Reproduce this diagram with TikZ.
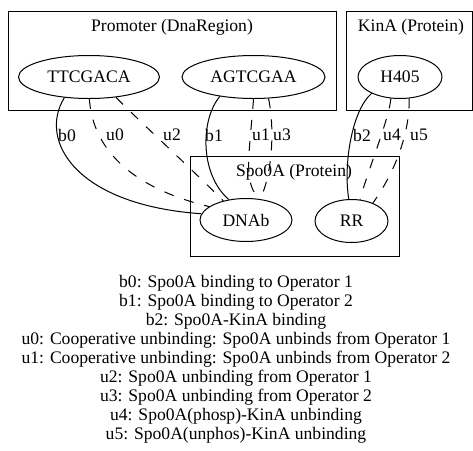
\documentclass[tikz,border=0pt]{standalone}
\usepackage{fontspec}
\setmainfont{Liberation Serif}
\usetikzlibrary{shapes.geometric}
\tikzset{
	site/.style={draw, ellipse, line width=1pt, minimum height=43pt, inner sep=0pt},
	cluster/.style={draw, line width=1pt},
	bind/.style={line width=1pt},
	unbind/.style={line width=1pt, dash pattern=on 10pt off 11pt},
	lbl/.style={inner sep=0pt}
}

\begin{document}
\begin{tikzpicture}[x=1pt, y=-1pt, font=\fontsize{17.6}{19}\selectfont]
		%%%%% START %%%%%
		\useasboundingbox (0, 0) rectangle (473, 450);
		
		% clusters
		\draw[cluster] (8.5, 11) rectangle (336.5, 110);
		\node[lbl] (promoter) at (172, 27) {Promoter (DnaRegion)};
		\draw[cluster] (346.5, 11) rectangle (472.5, 110);
		\node[lbl] (kina) at (411, 27) {KinA (Protein)};
		\draw[cluster] (190, 156) rectangle (399, 256);
		\node[lbl] (spo0a) at (294, 172) {Spo0A (Protein)};
		
		% sites
		\node[site, minimum width=141pt] (ttc) at (89, 77) {TTCGACA};
		\node[site, minimum width=143pt] (agt) at (253.5, 77) {AGTCGAA};
		\node[site, minimum width=84pt] (h405) at (400, 77) {H405};
		\node[site, minimum width=92pt] (dnab) at (246, 220) {DNAb};
		\node[site, minimum width=73pt] (rr) at (351.5, 221) {RR};
		
		% binding
		\draw[bind] (ttc.-140) .. controls (38, 140) and (75, 205) .. (dnab.172);
		\draw[bind] (agt.-150) .. controls (200, 120) and (200, 175) .. (dnab.130);
		\draw[bind] (h405.-150) .. controls (352, 110) and (343, 165) .. (rr.97);
		
		% unbinding
		\draw[unbind] (ttc.-89) .. controls (92, 140) and (120, 185) .. (dnab.160);
		\draw[unbind] (ttc.-37) .. controls (138, 120) and (195, 172) .. (dnab.140);
		\draw[unbind] (agt.-90) .. controls (250, 150) and (242, 185) .. (dnab.56);
		\draw[unbind] (agt.-55) .. controls (275, 130) and (272, 175) .. (dnab.56);
		\draw[unbind] (h405.-113) .. controls (389, 120) and (366, 175) .. (rr.68);
		\draw[unbind] (h405.-67) .. controls (410, 125) and (400, 165) .. (rr.40);
		
		% edge labels
		\node[lbl] (lb0) at (67, 135) {b0};
		\node[lbl] (lu0) at (115, 135) {u0};
		\node[lbl] (lu2) at (172, 135) {u2};
		\node[lbl] (lb1) at (214, 135) {b1};
		\node[lbl] (lu1) at (261, 135) {u1};
		\node[lbl] (lu3) at (282, 135) {u3};
		\node[lbl] (lb2) at (362, 135) {b2};
		\node[lbl] (lu4) at (392, 135) {u4};
		\node[lbl] (lu5) at (419, 135) {u5};
		
		% key
		\node[lbl, align=center] (key) at (236, 359) {b0: Spo0A binding to Operator 1\\
			b1: Spo0A binding to Operator 2\\
			b2: Spo0A-KinA binding\\
			u0: Cooperative unbinding: Spo0A unbinds from Operator 1\\
			u1: Cooperative unbinding: Spo0A unbinds from Operator 2\\
			u2: Spo0A unbinding from Operator 1\\
			u3: Spo0A unbinding from Operator 2\\
			u4: Spo0A(phosp)-KinA unbinding\\
			u5: Spo0A(unphos)-KinA unbinding};
		
		%%%%% END %%%%%
	\end{tikzpicture}
\end{document}
